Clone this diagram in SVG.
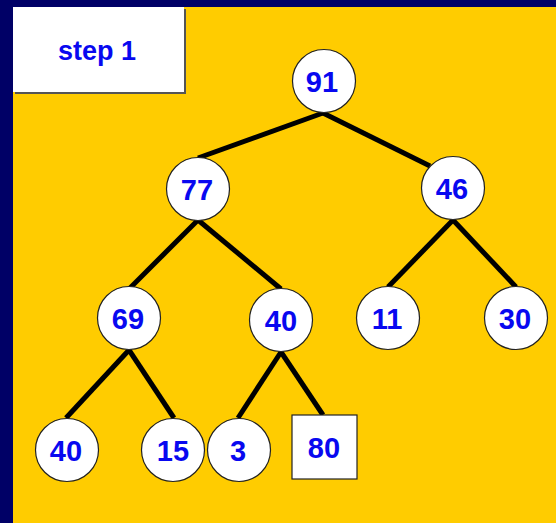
<svg xmlns="http://www.w3.org/2000/svg" width="556" height="523" viewBox="0 0 556 523">
<style>
.n circle, .n rect { fill:#fff; stroke:#222; stroke-width:1.2; }
.n text, .t { font-family:"Liberation Sans", Arial, sans-serif; font-weight:bold; font-size:29px; fill:#0808f0; text-anchor:middle; }
#edges line { stroke:#000; stroke-width:5; stroke-linecap:butt; }
</style>
<rect x="0" y="0" width="556" height="523" fill="#000066"/>
<rect x="13" y="7" width="543" height="516" fill="#ffcc00"/>
<g id="label">
<rect x="15" y="9" width="171" height="85" fill="#555"/>
<rect x="13" y="7" width="171" height="85" fill="#fff"/>
<text class="t" x="97" y="60" style="font-size:27px">step 1</text>
</g>
<g id="edges">
<line x1="323" y1="113" x2="198" y2="158"/>
<line x1="323" y1="113" x2="430" y2="166"/>
<line x1="198" y1="220" x2="130" y2="288"/>
<line x1="198" y1="220" x2="281" y2="289"/>
<line x1="453" y1="220" x2="388" y2="287"/>
<line x1="453" y1="220" x2="516" y2="287"/>
<line x1="129" y1="350" x2="66" y2="418"/>
<line x1="129" y1="350" x2="174" y2="418"/>
<line x1="281" y1="352" x2="238" y2="418"/>
<line x1="281" y1="352" x2="323" y2="415"/>
</g>
<g id="n91" class="n"><circle cx="324" cy="81" r="31.5"/><text x="322" y="92">91</text></g>
<g id="n77" class="n"><circle cx="198" cy="189" r="31.5"/><text x="197" y="200">77</text></g>
<g id="n46" class="n"><circle cx="453" cy="188" r="31.5"/><text x="452" y="199">46</text></g>
<g id="n69" class="n"><circle cx="129" cy="318" r="31.5"/><text x="128" y="329">69</text></g>
<g id="n40a" class="n"><circle cx="281" cy="320" r="31.5"/><text x="281" y="331">40</text></g>
<g id="n11" class="n"><circle cx="388" cy="318" r="31.5"/><text x="387" y="329">11</text></g>
<g id="n30" class="n"><circle cx="516" cy="318" r="31.5"/><text x="515" y="329">30</text></g>
<g id="n40b" class="n"><circle cx="67" cy="450" r="31.5"/><text x="66" y="461">40</text></g>
<g id="n15" class="n"><circle cx="173" cy="450" r="31.5"/><text x="173" y="461">15</text></g>
<g id="n3" class="n"><circle cx="239" cy="450" r="31.5"/><text x="238" y="461">3</text></g>
<g id="n80" class="n"><rect x="292" y="415" width="65" height="64"/><text x="324" y="458">80</text></g>
</svg>
